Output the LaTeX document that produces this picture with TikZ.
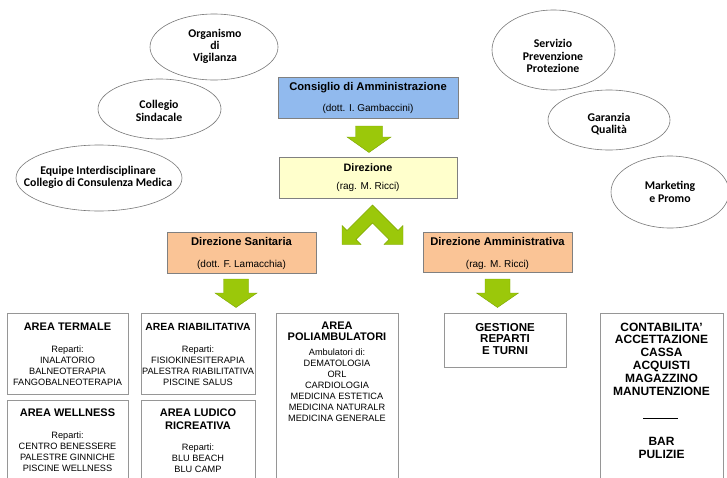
\documentclass[tikz,border=0pt]{standalone}
\usepackage{fontspec}
\setmainfont{Liberation Sans}
\newfontfamily\calib{Carlito}
\usetikzlibrary{shapes.geometric}
\definecolor{cblue}{RGB}{145,186,238}
\definecolor{cyel}{RGB}{255,255,204}
\definecolor{cpeach}{RGB}{250,196,150}
\definecolor{bordg}{RGB}{128,128,128}
\definecolor{areag}{RGB}{150,150,150}
\definecolor{ellg}{RGB}{120,120,120}
\definecolor{agreen}{RGB}{155,200,10}
\definecolor{agreend}{RGB}{125,165,0}
\begin{document}
\begin{tikzpicture}[x=1pt,y=-1pt,
  hbox/.style={draw=bordg, line width=0.8pt, inner sep=0pt, anchor=north west},
  abox/.style={draw=areag, line width=0.7pt, fill=white, inner sep=0pt, anchor=north west},
  ell/.style={ellipse, draw=ellg, line width=0.6pt, fill=white, inner sep=0pt},
  tx/.style={inner sep=0pt, align=center, anchor=north},
  htitle/.style={tx, font=\bfseries\fontsize{11.2}{13}\selectfont},
  hsub/.style={tx, font=\fontsize{10}{11}\selectfont},
  atitle/.style={tx, font=\bfseries\fontsize{11}{13}\selectfont},
  abody/.style={tx, font=\fontsize{9.2}{11}\selectfont},
  rtitle/.style={tx, font=\bfseries\fontsize{12}{12.8}\selectfont},
  etxt/.style={inner sep=0pt, align=center, font=\calib\bfseries\fontsize{11.8}{12.5}\selectfont},
  garrow/.style={fill=agreen, draw=agreend, line width=0.4pt}
]
\useasboundingbox (0,0) rectangle (727,477);
\clip (0,0) rectangle (727,477);
\fill[white] (0,0) rectangle (727,477);

% ellipses
\node[ell, minimum width=128pt, minimum height=66pt] (ov) at (214,47) {};
\node[etxt, font=\calib\bfseries\fontsize{11.8}{12}\selectfont] (ovt) at (215,46) {Organismo\\di\\Vigilanza};
\node[ell, minimum width=123pt, minimum height=60pt] (cs) at (159.5,109) {};
\node[etxt] (cst) at (159,111) {Collegio\\Sindacale};
\node[ell, minimum width=166pt, minimum height=66pt] (eq) at (99,178) {};
\node[etxt] (eqt) at (98,177.5) {Equipe Interdisciplinare\\Collegio di Consulenza Medica};
\node[ell, minimum width=123pt, minimum height=80pt] (sp) at (553.5,50) {};
\node[etxt] (spt) at (553,56) {Servizio\\Prevenzione\\Protezione};
\node[ell, minimum width=122pt, minimum height=60pt] (gq) at (609,120) {};
\node[etxt] (gqt) at (609,124) {Garanzia\\Qualità};
\node[ell, minimum width=118pt, minimum height=72pt] (mp) at (670,192) {};
\node[etxt] (mpt) at (670,192) {Marketing\\e Promo};

% header boxes
\node[hbox, fill=cblue, minimum width=180pt, minimum height=41pt] (cda) at (278,77) {};
\node[htitle] (cdat) at (368,82) {Consiglio di Amministrazione};
\node[hsub] (cdas) at (368,104.5) {(dott. I. Gambaccini)};

\node[hbox, fill=cyel, minimum width=178pt, minimum height=41pt] (dir) at (279,157) {};
\node[htitle, font=\bfseries\fontsize{10.8}{12}\selectfont] (dirt) at (368,163) {Direzione};
\node[hsub] (dirs) at (368,182.5) {(rag. M. Ricci)};

\node[hbox, fill=cpeach, minimum width=149pt, minimum height=41pt] (ds) at (167,232) {};
\node[htitle] (dst) at (241.5,237.5) {Direzione Sanitaria};
\node[hsub] (dss) at (241.5,260) {(dott. F. Lamacchia)};

\node[hbox, fill=cpeach, minimum width=149pt, minimum height=40pt] (da) at (423,232) {};
\node[htitle] (dat) at (497.5,237.5) {Direzione Amministrativa};
\node[hsub] (das) at (497.5,260) {(rag. M. Ricci)};

% green arrows
\path[garrow] (355.5,126) -- (382.5,126) -- (382.5,137) -- (391,137) -- (369,152.5) -- (347,137) -- (355.5,137) -- cycle;
\path[garrow] (223.5,279) -- (248.5,279) -- (248.5,293) -- (257,293) -- (236,307.5) -- (215,293) -- (223.5,293) -- cycle;
\path[garrow] (485,279) -- (510,279) -- (510,293) -- (518.5,293) -- (497.5,307.5) -- (476.5,293) -- (485,293) -- cycle;
\path[garrow] (372.5,205) -- (347,230.5) -- (342,225.5) -- (342,244.5) -- (361,244.5) -- (356,239.5) -- (372.5,223)
  -- (389,239.5) -- (384,244.5) -- (403,244.5) -- (403,225.5) -- (398,230.5) -- cycle;

% area boxes
\node[abox, minimum width=121pt, minimum height=81pt] (term) at (7,313) {};
\node[atitle] (termt) at (67.5,323) {AREA TERMALE};
\node[abody] (termb) at (67.5,345.5) {Reparti:\\INALATORIO\\BALNEOTERAPIA\\FANGOBALNEOTERAPIA};

\node[abox, minimum width=114pt, minimum height=81pt] (riab) at (141,313) {};
\node[atitle, font=\bfseries\fontsize{10.4}{13}\selectfont] (riabt) at (198,323.5) {AREA RIABILITATIVA};
\node[abody] (riabb) at (198,345.5) {Reparti:\\FISIOKINESITERAPIA\\PALESTRA RIABILITATIVA\\PISCINE SALUS};

\node[abox, minimum width=121pt, minimum height=90pt] (well) at (7,400) {};
\node[atitle] (wellt) at (67.5,409) {AREA WELLNESS};
\node[abody] (wellb) at (67.5,432) {Reparti:\\CENTRO BENESSERE\\PALESTRE GINNICHE\\PISCINE WELLNESS};

\node[abox, minimum width=114pt, minimum height=90pt] (lud) at (141,400) {};
\node[atitle] (ludt) at (198,409) {AREA LUDICO\\RICREATIVA};
\node[abody] (ludb) at (198,444) {Reparti:\\BLU BEACH\\BLU CAMP};

\node[abox, minimum width=122pt, minimum height=180pt] (poli) at (276,313) {};
\node[atitle, font=\bfseries\fontsize{11}{11}\selectfont] (polit) at (337,322) {AREA\\POLIAMBULATORI};
\node[abody] (polib) at (337,349) {Ambulatori di:\\DEMATOLOGIA\\ORL\\CARDIOLOGIA\\MEDICINA ESTETICA\\MEDICINA NATURALR\\MEDICINA GENERALE};

\node[abox, minimum width=122pt, minimum height=54pt] (gest) at (444,313) {};
\node[rtitle, font=\bfseries\fontsize{11.5}{11.5}\selectfont] (gestt) at (505,323) {GESTIONE\\REPARTI\\E TURNI};

\node[abox, minimum width=123pt, minimum height=180pt] (cont) at (600,313) {};
\node[rtitle] (contt) at (661.5,322.5) {CONTABILITA'\\ACCETTAZIONE\\CASSA\\ACQUISTI\\MAGAZZINO\\MANUTENZIONE};
\coordinate (sepl) at (643,418);
\coordinate (sepr) at (678,418);
\draw[line width=0.9pt] (sepl) -- (sepr);
\node[rtitle, font=\bfseries\fontsize{12}{13.5}\selectfont] (bart) at (661.5,437) {BAR\\PULIZIE};
\end{tikzpicture}
\end{document}
